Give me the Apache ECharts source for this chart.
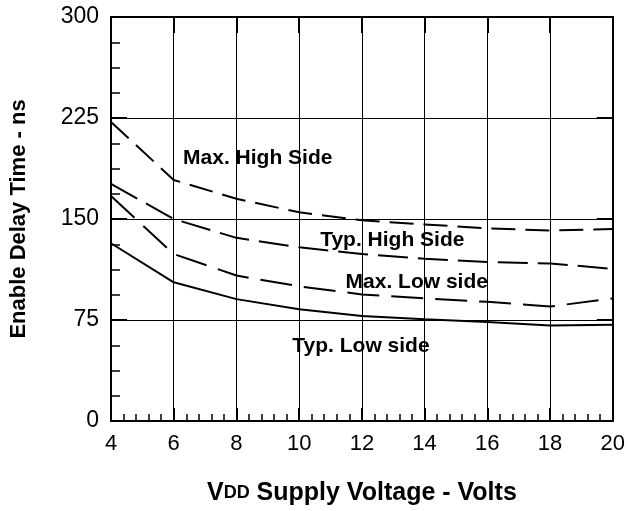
<!DOCTYPE html>
<html><head><meta charset="utf-8">
<script src="https://cdn.jsdelivr.net/npm/echarts@6/dist/echarts.min.js"></script>
<style>html,body{margin:0;padding:0;background:#fff}#c{width:628px;height:511px}</style>
</head><body><div id="c"></div>
<script>
// ---- data ----
const voltage = [4, 6, 8, 10, 12, 14, 16, 18, 20];
const maxHighSide = [222, 179, 165, 155, 149, 146, 143, 141.5, 142.5];
const typHighSide = [176, 150, 136, 129, 124, 120.5, 118, 117, 113];
const maxLowSide = [167, 124, 108, 100, 94, 91, 88.5, 85, 91];
const typLowSide = [132, 103, 90.5, 83, 78, 75.5, 73.5, 71, 71.5];
const xTickLabels = [4, 6, 8, 10, 12, 14, 16, 18, 20];
const yTickLabels = [0, 75, 150, 225, 300];
const seriesNames = ['Max. High Side', 'Typ. High Side', 'Max. Low side', 'Typ. Low side'];
// annotation anchor points (data units)
const labelAtX = [8.68, 12.97, 13.75, 11.97];
const labelAtY = [195.3, 134.4, 103.2, 55.7];

const FF = '"Liberation Sans", Arial, Helvetica, sans-serif';
const xMin = xTickLabels[0], xMax = xTickLabels[xTickLabels.length - 1], xInt = xTickLabels[1] - xTickLabels[0];
const yMin = yTickLabels[0], yMax = yTickLabels[yTickLabels.length - 1], yInt = yTickLabels[1] - yTickLabels[0];
const pairs = arr => voltage.map((v, i) => [v, arr[i]]);
const values = [maxHighSide, typHighSide, maxLowSide, typLowSide];
const dashes = [[24, 10], [30, 10], [32, 12], 'solid'];

const chart = echarts.init(document.getElementById('c'), null, {renderer: 'canvas'});
const black = '#000';
chart.setOption({
  animation: false,
  backgroundColor: '#fff',
  grid: {left: 111, right: 14, top: 17, bottom: 90},
  xAxis: [{
    type: 'value', min: xMin, max: xMax, interval: xInt, position: 'bottom',
    axisLine: {show: true, onZero: false, lineStyle: {color: black, width: 2}},
    axisTick: {show: true, inside: true, length: 13, lineStyle: {color: black, width: 2}},
    minorTick: {show: true, splitNumber: 5, length: 7, lineStyle: {color: black, width: 1.5}},
    splitLine: {show: true, lineStyle: {color: black, width: 1}},
    axisLabel: {fontSize: 22, color: black, margin: 12, fontFamily: FF},
    name: '{v|V}{d|DD}{n| Supply Voltage - Volts}',
    nameLocation: 'middle', nameGap: 60,
    nameTextStyle: {
      color: black, fontFamily: FF, fontWeight: 'bold',
      rich: {
        v: {fontSize: 25, fontWeight: 'bold', fontFamily: FF, color: black},
        d: {fontSize: 18, fontWeight: 'bold', fontFamily: FF, color: black},
        n: {fontSize: 25, fontWeight: 'bold', fontFamily: FF, color: black}
      }
    }
  }, {
    type: 'value', min: xMin, max: xMax, interval: xInt, position: 'top',
    axisLine: {show: true, onZero: false, lineStyle: {color: black, width: 2}},
    axisTick: {show: true, inside: true, length: 16, lineStyle: {color: black, width: 2}},
    axisLabel: {show: false}, splitLine: {show: false}
  }],
  yAxis: [{
    type: 'value', min: yMin, max: yMax, interval: yInt, position: 'left',
    axisLine: {show: true, onZero: false, lineStyle: {color: black, width: 2}},
    axisTick: {show: true, inside: true, length: 16, lineStyle: {color: black, width: 2}},
    minorTick: {show: true, splitNumber: 4, length: 9, lineStyle: {color: black, width: 1.5}},
    splitLine: {show: true, lineStyle: {color: black, width: 1}},
    axisLabel: {fontSize: 23, color: black, margin: 12, fontFamily: FF},
    name: 'Enable Delay Time - ns', nameLocation: 'middle', nameRotate: 90, nameGap: 81,
    nameTextStyle: {fontSize: 22, fontWeight: 'bold', color: black, fontFamily: FF}
  }, {
    type: 'value', min: yMin, max: yMax, interval: yInt, position: 'right',
    axisLine: {show: true, onZero: false, lineStyle: {color: black, width: 2}},
    axisTick: {show: true, inside: true, length: 16, lineStyle: {color: black, width: 2}},
    axisLabel: {show: false}, splitLine: {show: false}
  }],
  series: seriesNames.map((n, i) => ({
    name: n, type: 'line', xAxisIndex: 0, yAxisIndex: 0,
    data: pairs(values[i]), showSymbol: false, symbol: 'none',
    lineStyle: {color: black, width: 2, type: dashes[i]}
  }))
});

const graphics = seriesNames.map((n, i) => {
  const p = chart.convertToPixel({xAxisIndex: 0, yAxisIndex: 0}, [labelAtX[i], labelAtY[i]]);
  return {
    type: 'text', x: p[0], y: p[1], z: 100,
    style: {text: n, fill: black, font: 'bold 21px ' + FF, textAlign: 'center', textVerticalAlign: 'middle'}
  };
});
chart.setOption({graphic: graphics});
</script>
</body></html>
